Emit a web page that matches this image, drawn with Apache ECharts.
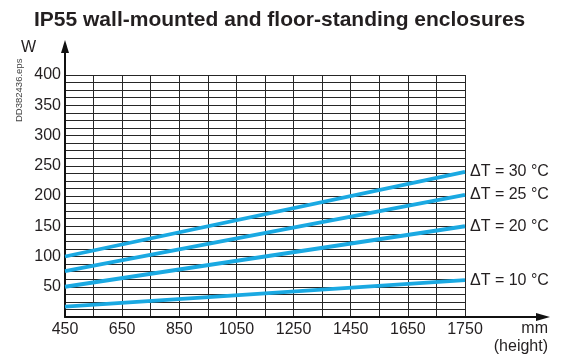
<!DOCTYPE html>
<html>
<head>
<meta charset="utf-8">
<script src="https://cdn.jsdelivr.net/npm/echarts@6/dist/echarts.min.js"></script>
<style>
  html, body { margin: 0; padding: 0; background: #fff; }
  #chart { width: 562px; height: 356px; }
</style>
</head>
<body>
<div id="chart"></div>
<script>
// height axis: grid positions run 450..1850 in steps of 100, labels every 2nd line
var xTickLabels = ['450', '650', '850', '1050', '1250', '1450', '1650', '1750']
var heights = [450, 1850]
var yTicks = [0, 50, 100, 150, 200, 250, 300, 350, 400]

// dissipated power (W) at the left and right ends of each line
var dT10 = [17, 61]
var dT20 = [50, 150]
var dT25 = [76, 202]
var dT30 = [100, 240]
var seriesNames = ['ΔT = 30 °C', 'ΔT = 25 °C', 'ΔT = 20 °C', 'ΔT = 10 °C']

var chart = echarts.init(document.getElementById('chart'))

function pairs(ys) {
  return heights.map(function(h, i) { return [h, ys[i]] })
}

var gridColor = '#262626'
var textColor = '#231f20'
var blue = '#1aa9e2'

var lines = [dT30, dT25, dT20, dT10].map(function(ys, i) {
  return {
    name: seriesNames[i],
    type: 'line',
    data: pairs(ys),
    symbol: 'none',
    silent: true,
    lineStyle: { color: blue, width: 3.8 },
    endLabel: {
      show: true,
      formatter: seriesNames[i],
      color: textColor,
      fontSize: 16,
      fontFamily: 'Liberation Sans',
      distance: 5
    },
    animation: false
  }
})

var option = {
  backgroundColor: '#fff',
  title: {
    text: 'IP55 wall-mounted and floor-standing enclosures',
    left: 29,
    top: 5,
    textStyle: {
      color: textColor,
      fontSize: 21,
      fontWeight: 'bold',
      fontFamily: 'Liberation Sans'
    }
  },
  grid: { left: 65, right: 97, top: 75, bottom: 39 },
  xAxis: {
    type: 'value',
    min: 450,
    max: 1850,
    interval: 100,
    axisLine: { show: true, onZero: false, lineStyle: { color: '#111', width: 2 } },
    axisTick: { show: false },
    splitLine: { show: true, lineStyle: { color: gridColor, width: 1 } },
    axisLabel: {
      color: textColor,
      fontSize: 16,
      fontFamily: 'Liberation Sans',
      margin: 5,
      showMinLabel: true,
      showMaxLabel: true,
      formatter: function(v) {
        var k = (v - 450) / 200
        return Number.isInteger(k) ? xTickLabels[k] : ''
      }
    }
  },
  yAxis: {
    type: 'value',
    min: yTicks[0],
    max: yTicks[yTicks.length - 1],
    interval: 50,
    axisLine: { show: true, lineStyle: { color: '#111', width: 2 } },
    axisTick: { show: false },
    minorTick: { show: false, splitNumber: 4 },
    splitLine: { show: true, lineStyle: { color: gridColor, width: 1 } },
    minorSplitLine: { show: true, lineStyle: { color: gridColor, width: 1 } },
    axisLabel: {
      color: textColor,
      fontSize: 16,
      fontFamily: 'Liberation Sans',
      margin: 4,
      formatter: function(v) { return v === 0 ? '' : String(v) }
    }
  },
  graphic: [
    // axis arrows
    { type: 'line', shape: { x1: 65, y1: 76, x2: 65, y2: 50 }, style: { stroke: '#111', lineWidth: 2 } },
    { type: 'polygon', shape: { points: [[65, 40], [61, 53], [69, 53]] }, style: { fill: '#111' } },
    { type: 'line', shape: { x1: 464, y1: 317, x2: 538, y2: 317 }, style: { stroke: '#111', lineWidth: 2 } },
    { type: 'polygon', shape: { points: [[550, 317], [536, 313], [536, 321]] }, style: { fill: '#111' } },
    { type: 'text', left: 21, top: 40, style: { text: 'W', fill: textColor, font: '16px "Liberation Sans"' } },
    { type: 'text', right: 14, top: 321, style: { text: 'mm', fill: textColor, font: '16px "Liberation Sans"', align: 'right' } },
    { type: 'text', right: 14, top: 339, style: { text: '(height)', fill: textColor, font: '16px "Liberation Sans"', align: 'right' } },
    {
      type: 'text', x: 14, y: 122, rotation: Math.PI / 2,
      style: { text: 'DD382436.eps', fill: '#444', font: '9.5px "Liberation Sans"' }
    }
  ],
  series: lines
}

chart.setOption(option)
</script>
</body>
</html>
